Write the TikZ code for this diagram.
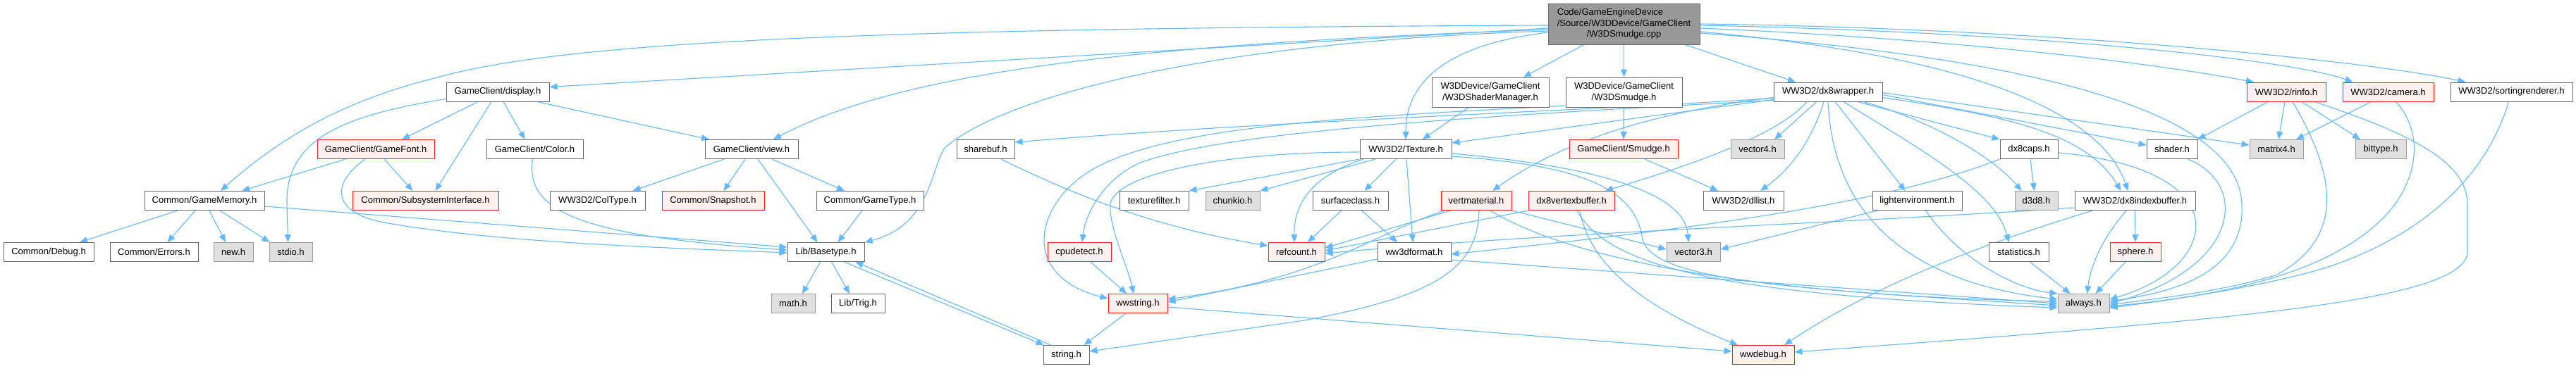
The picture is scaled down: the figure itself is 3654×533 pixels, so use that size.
\documentclass[tikz,border=0pt]{standalone}
\usepackage{fontspec}
\usepackage{calc}
\usetikzlibrary{arrows.meta}
\newfontfamily\nodefont{Liberation Sans}
\definecolor{edgeblue}{HTML}{63B8FF}
\definecolor{nodeborder}{HTML}{666666}
\definecolor{sysfill}{HTML}{E0E0E0}
\definecolor{sysborder}{HTML}{999999}
\definecolor{truncfill}{HTML}{FFF0F0}
\definecolor{truncborder}{HTML}{FF2020}
\definecolor{mainfill}{HTML}{999999}
\pgfdeclarelayer{bg}
\pgfsetlayers{bg,main}
\begin{document}
\begin{tikzpicture}[x=1pt,y=-1pt,
  box/.style={draw=nodeborder, fill=white, line width=1pt, minimum height=27pt, inner sep=0pt,
    font={\nodefont\fontsize{13}{15.6}\selectfont}},
  sysbox/.style={box, draw=sysborder, fill=sysfill},
  trunc/.style={box, draw=truncborder, fill=truncfill},
  srcbox/.style={box, fill=mainfill, minimum height=58pt, align=center},
  twol/.style={box, minimum height=42pt, align=center},
  edg/.style={draw=edgeblue, line width=1.1pt, -{Triangle[length=11pt,width=9pt]}}]
% ---------- nodes ----------
\node[srcbox, minimum width=215pt] (src) at (2303.5,34) {\makebox[\widthof{/Source/W3DDevice/GameClient}][l]{Code/GameEngineDevice}\\/Source/W3DDevice/GameClient\\/W3DSmudge.cpp};
% row 2
\node[box, minimum width=146pt] (display) at (706,130.5) {GameClient/display.h};
\node[twol, minimum width=166pt] (shmgr) at (2114,131) {W3DDevice/GameClient\\/W3DShaderManager.h};
\node[twol, minimum width=165pt] (w3dsm) at (2303.5,131) {W3DDevice/GameClient\\/W3DSmudge.h};
\node[box, minimum width=154pt] (dx8w) at (2593,130.5) {WW3D2/dx8wrapper.h};
\node[trunc, minimum width=112pt] (rinfo) at (3243,130.5) {WW3D2/rinfo.h};
\node[trunc, minimum width=129pt] (camera) at (3387.5,130.5) {WW3D2/camera.h};
\node[box, minimum width=173pt] (sortr) at (3562.5,130.5) {WW3D2/sortingrenderer.h};
% row 3
\node[trunc, minimum width=166pt] (gfont) at (533,212) {GameClient/GameFont.h};
\node[box, minimum width=137pt] (color) at (758.5,212) {GameClient/Color.h};
\node[box, minimum width=132pt] (view) at (1066,212) {GameClient/view.h};
\node[box, minimum width=82pt] (sharebuf) at (1398,212) {sharebuf.h};
\node[box, minimum width=130pt] (texture) at (1994,212) {WW3D2/Texture.h};
\node[trunc, minimum width=154pt] (smudge) at (2303,212) {GameClient/Smudge.h};
\node[sysbox, minimum width=76pt] (vector4) at (2493,212) {vector4.h};
\node[box, minimum width=82pt] (dx8caps) at (2878,212) {dx8caps.h};
\node[box, minimum width=72pt] (shader) at (3081,212) {shader.h};
\node[sysbox, minimum width=76pt] (matrix4) at (3229,212) {matrix4.h};
\node[sysbox, minimum width=72pt] (bittype) at (3377,212) {bittype.h};
% row 4
\node[box, minimum width=170pt] (gm) at (290,285) {Common/GameMemory.h};
\node[trunc, minimum width=207pt] (subsys) at (603.5,285) {Common/SubsystemInterface.h};
\node[box, minimum width=135pt] (coltype) at (847.5,285) {WW3D2/ColType.h};
\node[trunc, minimum width=145pt] (snapshot) at (1011.5,285) {Common/Snapshot.h};
\node[box, minimum width=152pt] (gametype) at (1234,285) {Common/GameType.h};
\node[box, minimum width=98pt] (texfilter) at (1637,285) {texturefilter.h};
\node[sysbox, minimum width=77pt] (chunkio) at (1748.5,285) {chunkio.h};
\node[box, minimum width=107pt] (surface) at (1915.5,285) {surfaceclass.h};
\node[trunc, minimum width=100pt] (vertmat) at (2094,285) {vertmaterial.h};
\node[trunc, minimum width=122pt] (dx8vb) at (2229,285) {dx8vertexbuffer.h};
\node[box, minimum width=114pt] (dllist) at (2473,285) {WW3D2/dllist.h};
\node[box, minimum width=127pt] (lightenv) at (2719.5,285) {lightenvironment.h};
\node[sysbox, minimum width=61pt] (d3d8) at (2888.5,285) {d3d8.h};
\node[box, minimum width=171pt] (dx8ib) at (3028.5,285) {WW3D2/dx8indexbuffer.h};
% row 5
\node[box, minimum width=128pt] (debug) at (69,358) {Common/Debug.h};
\node[box, minimum width=125pt] (errors) at (218.5,358) {Common/Errors.h};
\node[sysbox, minimum width=56pt] (newh) at (331,358) {new.h};
\node[sysbox, minimum width=61pt] (stdio) at (412.5,358) {stdio.h};
\node[box, minimum width=109pt] (basetype) at (1171.5,358) {Lib/Basetype.h};
\node[trunc, minimum width=90pt] (cpudetect) at (1531,358) {cpudetect.h};
\node[trunc, minimum width=80pt] (refcount) at (1839,358) {refcount.h};
\node[box, minimum width=104pt] (ww3dfmt) at (2006,358) {ww3dformat.h};
\node[sysbox, minimum width=76pt] (vector3) at (2402,358) {vector3.h};
\node[box, minimum width=85pt] (statistics) at (2863.5,358) {statistics.h};
\node[trunc, minimum width=72pt] (sphere) at (3029,358) {sphere.h};
% row 6
\node[sysbox, minimum width=62pt] (mathh) at (1125,431) {math.h};
\node[box, minimum width=76pt] (trig) at (1217,431) {Lib/Trig.h};
\node[trunc, minimum width=84pt] (wwstring) at (1614,431) {wwstring.h};
\node[sysbox, minimum width=73pt] (always) at (2955.5,431) {always.h};
% row 7
\node[box, minimum width=65pt] (stringh) at (1512.5,504) {string.h};
\node[trunc, minimum width=88pt] (wwdebug) at (2501,504) {wwdebug.h};
% ---------- edges ----------
\begin{pgfonlayer}{bg}
\fill[white] (0,0) rectangle (3654,533);
% source file
\draw[edg] ([yshift=-2pt]src.west) .. controls (1200,40) and (800,60) .. (620,110) .. controls (520,135) and (420,175) .. ([xshift=23pt]gm.north);
\draw[edg] ([yshift=-6pt]src.west) -- ([yshift=7pt]display.east);
\draw[edg] ([yshift=-8pt]src.west) .. controls (1700,60) and (1300,90) .. ([xshift=31pt]view.north);
\draw[edg] ([yshift=-10pt]src.west) .. controls (1700,60) and (1420,140) .. (1340,210) .. controls (1320,240) and (1320,320) .. (basetype.north east);
\draw[edg] ([yshift=-12pt]src.west) .. controls (2080,60) and (1994,100) .. (texture.north);
\draw[edg] ([xshift=-57pt]src.south) -- ([xshift=47pt]shmgr.north);
\draw[edg] (src.south) -- (w3dsm.north);
\draw[edg] ([xshift=87pt]src.south) -- ([xshift=-46pt]dx8w.north);
\draw[edg] ([yshift=-6pt]src.east) .. controls (2700,52) and (3000,80) .. ([xshift=-46pt]rinfo.north);
\draw[edg] ([yshift=-2pt]src.east) .. controls (2900,46) and (3250,85) .. ([xshift=-50pt]camera.north);
\draw[edg] (src.east) .. controls (2900,40) and (3350,85) .. ([xshift=-65pt]sortr.north);
\draw[edg] ([yshift=-11pt]src.east) .. controls (2800,80) and (2980,160) .. ([xshift=-10pt]dx8ib.north);
\draw[edg] ([yshift=-13pt]src.east) .. controls (2850,80) and (3175,150) .. (3180,290) .. controls (3185,390) and (3080,415) .. ([yshift=3pt]always.east);
% display.h
\draw[edg] ([xshift=-28pt]display.south) -- ([xshift=37pt]gfont.north);
\draw[edg] ([xshift=-9pt]display.south) -- ([xshift=14pt]subsys.north);
\draw[edg] ([xshift=8pt]display.south) -- ([xshift=-14pt]color.north);
\draw[edg] ([xshift=56pt]display.south) -- ([xshift=-60pt]view.north);
\draw[edg] ([yshift=-10pt]display.west) .. controls (480,165) and (405,200) .. (407,290) -- ([xshift=-4pt]stdio.north);
% GameFont.h
\draw[edg] ([xshift=12pt]gfont.south) -- ([xshift=-18pt]subsys.north);
\draw[edg] ([xshift=-43pt]gfont.south) -- ([xshift=53pt]gm.north);
\draw[edg] ([xshift=-15pt]gfont.south) .. controls (470,260) and (470,300) .. (540,315) .. controls (700,345) and (950,352) .. ([yshift=-1pt]basetype.west);
% GameMemory.h
\draw[edg] ([xshift=-38pt]gm.south) -- ([xshift=44pt]debug.north);
\draw[edg] ([xshift=-13pt]gm.south) -- ([xshift=19pt]errors.north);
\draw[edg] ([xshift=7pt]gm.south) -- ([xshift=-11pt]newh.north);
\draw[edg] ([xshift=22pt]gm.south) -- ([xshift=-30pt]stdio.north);
\draw[edg] ([yshift=-8pt]gm.east) -- ([yshift=7pt]basetype.west);
% Color.h
\draw[edg] ([xshift=-3pt]color.south) .. controls (745,300) and (820,335) .. ([yshift=3pt]basetype.west);
% view.h
\draw[edg] ([xshift=-39pt]view.south) -- ([xshift=50pt]coltype.north);
\draw[edg] ([xshift=-9pt]view.south) -- ([xshift=15pt]snapshot.north);
\draw[edg] ([xshift=9pt]view.south) -- ([xshift=-12pt]basetype.north);
\draw[edg] ([xshift=29pt]view.south) -- ([xshift=-36pt]gametype.north);
\draw[edg] ([xshift=-11pt]gametype.south) -- ([xshift=17pt]basetype.north);
% Basetype.h
\draw[edg] ([xshift=-8pt]basetype.south) -- ([xshift=13pt]mathh.north);
\draw[edg] ([xshift=8pt]basetype.south) -- ([xshift=-12pt]trig.north);
\draw[edg] ([xshift=26pt]basetype.south) -- ([xshift=-32pt]stringh.north);
\draw[edg] ([xshift=-22pt]stringh.north) -- ([xshift=42pt]basetype.south);
% sharebuf.h
\draw[edg] ([yshift=-9pt]dx8w.west) .. controls (2200,160) and (1800,172) .. ([yshift=10pt]sharebuf.east);
\draw[edg] ([xshift=22pt]sharebuf.south) .. controls (1500,265) and (1620,320) .. ([yshift=9pt]refcount.west);
% Texture.h
\draw[edg] ([xshift=-31pt]shmgr.south) -- ([xshift=24pt]texture.north);
\draw[edg] (texture.south west) -- (texfilter.north east);
\draw[edg] ([xshift=-43pt]texture.south) -- (chunkio.north east);
\draw[edg] ([xshift=-14pt]texture.south) -- ([xshift=20pt]surface.north);
\draw[edg] ([xshift=1pt]texture.south) -- ([xshift=-2pt]ww3dfmt.north);
\draw[edg] ([xshift=-60pt]texture.south) .. controls (1860,250) and (1835,290) .. ([xshift=-3pt]refcount.north);
\draw[edg] ([yshift=-4pt]texture.west) .. controls (1720,216) and (1580,250) .. (1575,290) .. controls (1572,320) and (1600,380) .. ([xshift=-6pt]wwstring.north);
\draw[edg] ([yshift=-6pt]texture.east) .. controls (2250,235) and (2390,270) .. ([xshift=-7pt]vector3.north);
\draw[edg] ([yshift=-10pt]texture.east) .. controls (2250,235) and (2320,270) .. (2330,340) .. controls (2345,400) and (2550,410) .. ([yshift=-3pt]always.west);
% dx8wrapper.h
\draw[edg] ([yshift=-11pt]dx8w.west) -- ([yshift=9pt]texture.east);
\draw[edg] ([yshift=-12pt]dx8w.west) .. controls (2100,165) and (1750,185) .. (1620,230) .. controls (1570,250) and (1540,300) .. ([xshift=4pt]cpudetect.north);
\draw[edg] ([yshift=-8pt]dx8w.west) .. controls (2380,155) and (2230,190) .. ([xshift=23pt]vertmat.north);
\draw[edg] ([xshift=-30pt]dx8w.south) .. controls (2520,195) and (2380,240) .. ([xshift=48pt]dx8vb.north);
\draw[edg] ([xshift=-16pt]dx8w.south) -- ([xshift=24pt]vector4.north);
\draw[edg] ([xshift=-6pt]dx8w.south) .. controls (2570,200) and (2540,240) .. ([xshift=24pt]dllist.north);
\draw[edg] ([xshift=10pt]dx8w.south) -- ([xshift=-17pt]lightenv.north);
\draw[edg] (dx8w.south) .. controls (2600,300) and (2700,400) .. ([yshift=6pt]always.west);
\draw[edg] ([xshift=22pt]dx8w.south) .. controls (2720,210) and (2830,270) .. ([xshift=-14pt]statistics.north);
\draw[edg] ([xshift=42pt]dx8w.south) -- (dx8caps.north west);
\draw[edg] ([xshift=50pt]dx8w.south) .. controls (2720,165) and (2820,215) .. ([xshift=-21pt]d3d8.north);
\draw[edg] ([yshift=-8pt]dx8w.east) .. controls (2850,165) and (2960,190) .. ([xshift=-20pt]dx8ib.north);
\draw[edg] ([yshift=-4pt]dx8w.east) -- ([yshift=6pt]shader.west);
\draw[edg] ([yshift=-1pt]dx8w.east) -- ([yshift=6pt]matrix4.west);
% W3DSmudge.h and Smudge.h
\draw[edg] (w3dsm.south) -- (smudge.north);
\draw[edg] ([yshift=-19pt]w3dsm.west) .. controls (1950,165) and (1680,175) .. (1560,235) .. controls (1470,280) and (1440,390) .. ([yshift=7pt]wwstring.west);
\draw[edg] ([xshift=30pt]smudge.south) -- ([xshift=-36pt]dllist.north);
% surfaceclass.h
\draw[edg] ([xshift=-13pt]surface.south) -- ([xshift=16pt]refcount.north);
\draw[edg] ([xshift=16pt]surface.south) -- ([xshift=-24pt]ww3dfmt.north);
% vertmaterial.h
\draw[edg] ([xshift=-36pt]vertmat.south) -- ([yshift=6pt]refcount.east);
\draw[edg] ([xshift=-44pt]vertmat.south) .. controls (1950,330) and (1880,395) .. ([yshift=6pt]wwstring.east);
\draw[edg] (vertmat.south east) -- ([yshift=4pt]vector3.west);
\draw[edg] ([xshift=20pt]vertmat.south) .. controls (2230,370) and (2500,420) .. ([yshift=3pt]always.west);
\draw[edg] ([xshift=4pt]vertmat.south) .. controls (2096,380) and (2040,420) .. (1850,455) -- ([yshift=5pt]stringh.east);
% dx8vertexbuffer.h
\draw[edg] (dx8vb.south west) -- ([yshift=2pt]refcount.east);
\draw[edg] ([xshift=8pt]dx8vb.south) .. controls (2280,380) and (2450,420) .. ([yshift=-6pt]always.west);
\draw[edg] ([xshift=12pt]dx8vb.south) .. controls (2255,380) and (2340,440) .. ([xshift=-36pt]wwdebug.north);
% ww3dformat.h
\draw[edg] ([yshift=-10pt]ww3dfmt.west) -- ([yshift=2pt]wwstring.east);
\draw[edg] ([yshift=-11pt]ww3dfmt.east) -- (always.west);
% cpudetect.h, wwstring.h
\draw[edg] ([xshift=16pt]cpudetect.south) -- ([xshift=-16pt]wwstring.north);
\draw[edg] ([xshift=-17pt]wwstring.south) -- ([xshift=25pt]stringh.north);
\draw[edg] ([yshift=-5pt]wwstring.east) -- ([yshift=5pt]wwdebug.west);
% lightenvironment.h
\draw[edg] ([xshift=-56pt]lightenv.south) -- ([yshift=4pt]vector3.east);
\draw[edg] ([xshift=12pt]lightenv.south) .. controls (2780,370) and (2860,410) .. (always.north west);
% dx8caps.h
\draw[edg] ([xshift=2pt]dx8caps.south) -- ([xshift=-3pt]d3d8.north);
\draw[edg] (dx8caps.south west) .. controls (2650,300) and (2300,335) .. ([yshift=-3pt]ww3dfmt.east);
\draw[edg] ([yshift=-5pt]dx8caps.east) .. controls (3180,240) and (3150,380) .. ([yshift=6pt]always.east);
% shader.h
\draw[edg] ([xshift=22pt]shader.south) .. controls (3190,260) and (3180,380) .. (always.east);
% rinfo.h
\draw[edg] ([xshift=-26pt]rinfo.south) -- (shader.north east);
\draw[edg] ([xshift=-2pt]rinfo.south) -- ([xshift=3pt]matrix4.north);
\draw[edg] ([xshift=22pt]rinfo.south) -- ([xshift=-29pt]bittype.north);
\draw[edg] ([xshift=9pt]rinfo.south) .. controls (3320,260) and (3320,340) .. (3230,390) .. controls (3150,415) and (3050,425) .. ([yshift=-2pt]always.east);
\draw[edg] ([xshift=40pt]rinfo.south) .. controls (3420,190) and (3500,230) .. (3500,290) -- (3500,360) .. controls (3490,430) and (3150,455) .. ([yshift=4pt]wwdebug.east);
% camera.h
\draw[edg] ([xshift=-24pt]camera.south) -- ([xshift=28pt]matrix4.north);
\draw[edg] ([xshift=11pt]camera.south) .. controls (3440,190) and (3430,260) .. (3380,310) .. controls (3300,390) and (3150,420) .. ([yshift=-4pt]always.east);
% sortingrenderer.h
\draw[edg] ([xshift=-4pt]sortr.south) .. controls (3530,240) and (3450,330) .. (3300,380) .. controls (3200,410) and (3050,430) .. ([yshift=-6pt]always.east);
% dx8indexbuffer.h
\draw[edg] (dx8ib.south) -- (sphere.north);
\draw[edg] ([xshift=-12pt]dx8ib.south) .. controls (2980,340) and (2965,380) .. ([xshift=5pt]always.north);
\draw[edg] ([yshift=-10pt]dx8ib.west) .. controls (2600,318) and (2200,330) .. ([yshift=-2pt]refcount.east);
\draw[edg] ([xshift=-60pt]dx8ib.south) .. controls (2800,350) and (2650,410) .. ([xshift=30pt]wwdebug.north);
% statistics.h, sphere.h
\draw[edg] ([xshift=16pt]statistics.south) -- ([xshift=-19pt]always.north);
\draw[edg] ([xshift=-14pt]sphere.south) -- ([xshift=17pt]always.north);
\end{pgfonlayer}
\end{tikzpicture}
\end{document}
